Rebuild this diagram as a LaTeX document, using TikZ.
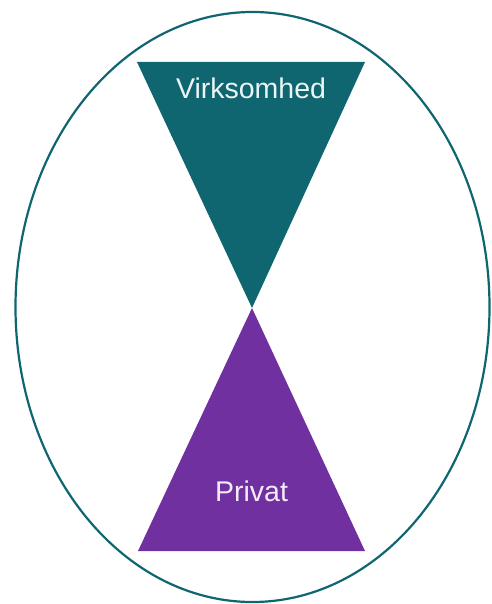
\documentclass[tikz,border=0pt]{standalone}
\usepackage{fontspec}
\setmainfont{Liberation Sans}
\usetikzlibrary{shapes.geometric}
\definecolor{tealdark}{HTML}{0F6670}
\definecolor{plum}{HTML}{7030A0}
\definecolor{paletext}{HTML}{EAF6F6}
\definecolor{lilactext}{HTML}{F3ECF8}
\begin{document}
\begin{tikzpicture}[x=1pt,y=-1pt,
  label text/.style={font=\fontsize{28.5}{34}\selectfont, inner sep=0pt, anchor=base}]
  \useasboundingbox (0,0) rectangle (491,604);
  % outer ring
  \node[draw=tealdark, line width=2.2pt, ellipse, minimum width=474, minimum height=590, inner sep=0pt] (ring) at (252.5,307) {};
  % hourglass halves
  \coordinate (waist) at (252,308);
  \fill[tealdark] (137,62) -- (365,62) -- (waist) -- cycle;
  \fill[plum] (138,551) -- (365,551) -- (waist) -- cycle;
  \node[label text, text=paletext] (top) at (251,99) {Virksomhed};
  \node[label text, text=lilactext] (bottom) at (251.5,501) {Privat};
\end{tikzpicture}
\end{document}
